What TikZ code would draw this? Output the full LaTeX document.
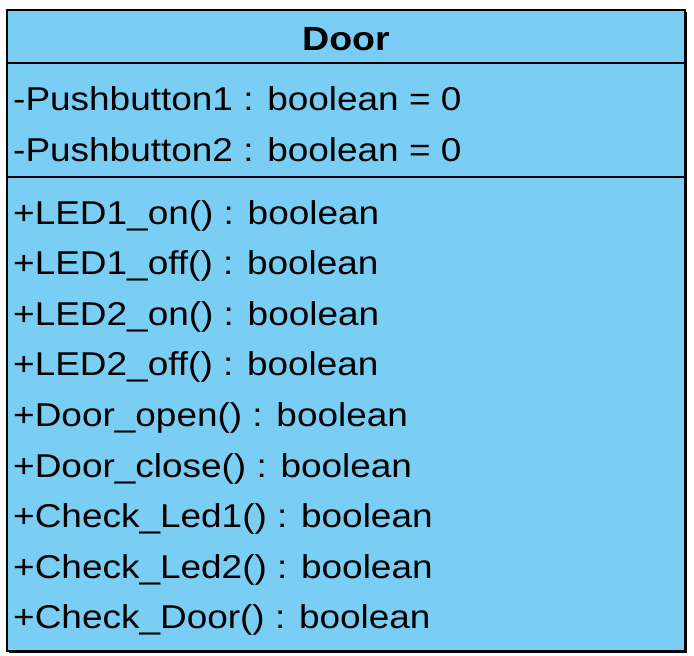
\documentclass[tikz,border=0pt]{standalone}
\usepackage{fontspec}
\setmainfont[FakeStretch=1.12]{Liberation Sans}
\definecolor{classfill}{RGB}{122,206,243}
\begin{document}
\begin{tikzpicture}[x=1pt,y=-1pt,
  member/.style={anchor=base west,inner sep=0pt,font=\fontsize{33}{40}\selectfont},
  classname/.style={anchor=base,inner sep=0pt,font=\fontsize{33.5}{40}\selectfont\bfseries},
  frame/.style={draw=black,line width=2.2pt,fill=classfill},
  divider/.style={draw=black,line width=2.2pt}]
\useasboundingbox (0,0) rectangle (694,656);
% class box with a slight drop shadow
\fill[black] (9,12) rectangle (687,653);
\path[frame] (7,10) rectangle (685,651);
\coordinate (sepAL) at (7,63);
\coordinate (sepAR) at (685,63);
\coordinate (sepBL) at (7,177);
\coordinate (sepBR) at (685,177);
\draw[divider] (sepAL) -- (sepAR);
\draw[divider] (sepBL) -- (sepBR);
% class name
\node[classname] (title) at (346,50) {Door};
% attributes
\node[member] (a1) at (13,110.5) {-Pushbutton1 : boolean = 0};
\node[member] (a2) at (13,161) {-Pushbutton2 : boolean = 0};
% operations
\node[member] (m1) at (13,224) {+LED1\_on() : boolean};
\node[member] (m2) at (13,274.6) {+LED1\_off() : boolean};
\node[member] (m3) at (13,325.2) {+LED2\_on() : boolean};
\node[member] (m4) at (13,375.8) {+LED2\_off() : boolean};
\node[member] (m5) at (13,426.4) {+Door\_open() : boolean};
\node[member] (m6) at (13,477) {+Door\_close() : boolean};
\node[member] (m7) at (13,527.6) {+Check\_Led1() : boolean};
\node[member] (m8) at (13,578.2) {+Check\_Led2() : boolean};
\node[member] (m9) at (13,628.8) {+Check\_Door() : boolean};
\end{tikzpicture}
\end{document}
